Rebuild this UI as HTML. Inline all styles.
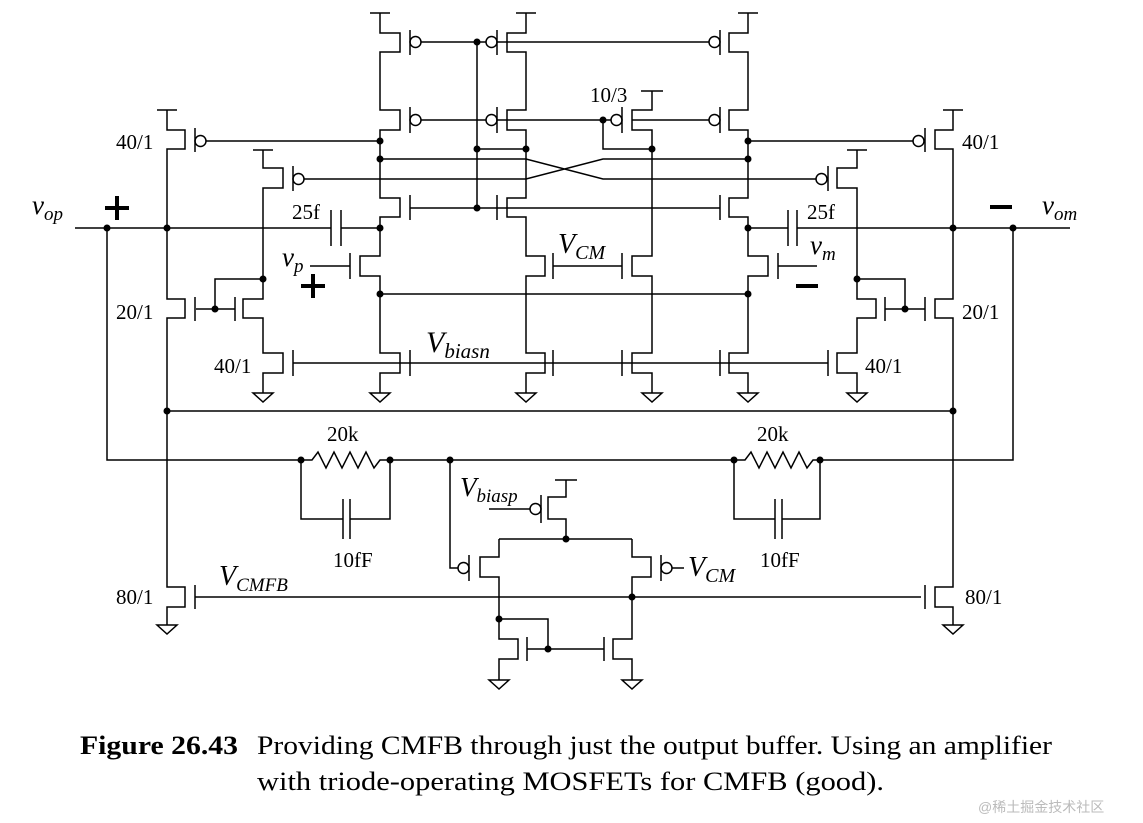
<!DOCTYPE html>
<html><head><meta charset="utf-8"><style>
html,body{margin:0;padding:0;background:#fff;width:1143px;height:823px;overflow:hidden}
svg{display:block}
text{font-family:"Liberation Serif",serif;fill:#000}
.l{font-size:21px}
.i{font-style:italic}
</style></head><body>
<svg width="1143" height="823" viewBox="0 0 1143 823" xmlns="http://www.w3.org/2000/svg">
<g fill="none" stroke="#000" stroke-width="1.5">
<path d="M370,13H390 M516,13H536 M738,13H758 M641,91H663 M157,110H177 M943,110H963 M253,150H273 M847,150H867 M555,480H577"/>
<path d="M380,13V33H400V52H380V110H400V130H380V198H400V217H380V256H360V276H380V353H400V373H380V393"/>
<path d="M526,13V33H507V52H526V110H507V130H526V198H507V217H526V256H545V276H526V353H545V373H526V393"/>
<path d="M652,91V110H632V130H652V256H632V276H652V353H632V373H652V393"/>
<path d="M748,13V33H729V52H748V110H729V130H748V198H729V217H748V256H768V276H748V353H729V373H748V393"/>
<path d="M410,30V55 M410,107V133 M410,195V220 M410,350V376 M350,253V279
M497,30V55 M497,107V133 M497,195V220 M553,253V279 M553,350V376
M622,107V133 M622,253V279 M622,350V376
M720,30V55 M720,107V133 M720,195V220 M720,350V376 M778,253V279"/>
<circle cx="415.5" cy="42" r="5.5"/><circle cx="491.5" cy="42" r="5.5"/>
<circle cx="415.5" cy="120" r="5.5"/><circle cx="491.5" cy="120" r="5.5"/>
<circle cx="616.5" cy="120" r="5.5"/><circle cx="714.5" cy="42" r="5.5"/><circle cx="714.5" cy="120" r="5.5"/>
<circle cx="200.5" cy="141" r="5.5"/><circle cx="298.5" cy="179" r="5.5"/>
<circle cx="918.5" cy="141" r="5.5"/><circle cx="821.5" cy="179" r="5.5"/>
<circle cx="463.5" cy="568" r="5.5"/><circle cx="666.5" cy="568" r="5.5"/><circle cx="535.5" cy="509" r="5.5"/>
<path d="M421,42H486 M497,42H709 M421,120H486 M497,120H611 M632,120H709 M410,208H720
M477,42V208 M477,149H526 M603,120V149H652
M380,159H526L603,179H816 M304,179H526L603,159H748
M206,141H380 M748,141H913 M553,266H622 M310,266H350 M778,266H817 M293,363H828 M380,294H748"/>
<path d="M75,228H331 M341,228H380 M748,228H788 M797,228H1070 M331,210V246 M341,210V246 M788,210V246 M797,210V246"/>
<path d="M167,110V130H185V149H167V299H185V318H167V587H185V607H167V625"/>
<path d="M263,150V168H283V188H263V299H243V318H263V353H283V373H263V393"/>
<path d="M195,128V152 M195,297V321 M195,585V609 M293,166V191 M235,297V321 M293,350V376 M263,279H215V309 M196,309H235"/>
<path d="M953,110V130H935V149H953V299H935V318H953V587H935V607H953V625"/>
<path d="M857,150V168H837V188H857V299H876V318H857V353H837V373H857V393"/>
<path d="M925,128V152 M925,297V321 M925,585V609 M828,166V191 M885,297V321 M828,350V376 M857,279H905V309 M885,309H925"/>
<path d="M167,411H953 M107,228V460H301 M390,460H734 M820,460H1013V228"/>
<path d="M301,460H312L318,452L326,468L334,452L342,468L350,452L358,468L366,452L374,468L380,460H390"/>
<path d="M734,460H745L751,452L759,468L767,452L775,468L783,452L791,468L799,452L807,468L813,460H820"/>
<path d="M301,460V519H343 M350,519H390V460 M343,499V539 M350,499V539"/>
<path d="M734,460V519H775 M782,519H820V460 M775,499V539 M782,499V539"/>
<path d="M450,460V568H458 M469,555V581 M672,568H684 M661,555V581"/>
<path d="M499,539V557H480V577H499V639H518V659H499V680 M499,539H632"/>
<path d="M632,539V557H651V577H632V639H613V659H632V680"/>
<path d="M527,637V661 M604,637V661 M527,649H604 M548,649V619H499"/>
<path d="M566,480V497H548V519H566V539 M541,495V523 M489,509H530"/>
<path d="M195,597H921"/>
<path d="M370,393H390L380,402Z M516,393H536L526,402Z M642,393H662L652,402Z M738,393H758L748,402Z M253,393H273L263,402Z M847,393H867L857,402Z M157,625H177L167,634Z M943,625H963L953,634Z M489,680H509L499,689Z M622,680H642L632,689Z"/>
</g>
<g fill="#000">
<circle cx="380" cy="141" r="3.5"/><circle cx="380" cy="159" r="3.5"/><circle cx="380" cy="228" r="3.5"/><circle cx="380" cy="294" r="3.5"/>
<circle cx="748" cy="141" r="3.5"/><circle cx="748" cy="159" r="3.5"/><circle cx="748" cy="228" r="3.5"/><circle cx="748" cy="294" r="3.5"/>
<circle cx="477" cy="42" r="3.5"/><circle cx="477" cy="149" r="3.5"/><circle cx="477" cy="208" r="3.5"/><circle cx="526" cy="149" r="3.5"/>
<circle cx="603" cy="120" r="3.5"/><circle cx="652" cy="149" r="3.5"/>
<circle cx="107" cy="228" r="3.5"/><circle cx="167" cy="228" r="3.5"/><circle cx="953" cy="228" r="3.5"/><circle cx="1013" cy="228" r="3.5"/>
<circle cx="263" cy="279" r="3.5"/><circle cx="215" cy="309" r="3.5"/><circle cx="857" cy="279" r="3.5"/><circle cx="905" cy="309" r="3.5"/>
<circle cx="167" cy="411" r="3.5"/><circle cx="953" cy="411" r="3.5"/>
<circle cx="301" cy="460" r="3.5"/><circle cx="390" cy="460" r="3.5"/><circle cx="450" cy="460" r="3.5"/><circle cx="734" cy="460" r="3.5"/><circle cx="820" cy="460" r="3.5"/>
<circle cx="566" cy="539" r="3.5"/><circle cx="499" cy="619" r="3.5"/><circle cx="548" cy="649" r="3.5"/><circle cx="632" cy="597" r="3.5"/>
</g>
<text class="l" x="116" y="149">40/1</text>
<text class="l" x="116" y="319">20/1</text>
<text class="l" x="214" y="373">40/1</text>
<text class="l" x="292" y="219">25f</text>
<text class="l" x="590" y="102">10/3</text>
<text class="l" x="807" y="219">25f</text>
<text class="l" x="962" y="149">40/1</text>
<text class="l" x="962" y="319">20/1</text>
<text class="l" x="865" y="373">40/1</text>
<text class="l" x="327" y="441">20k</text>
<text class="l" x="757" y="441">20k</text>
<text class="l" x="333" y="567">10fF</text>
<text class="l" x="760" y="567">10fF</text>
<text class="l" x="116" y="604">80/1</text>
<text class="l" x="965" y="604">80/1</text>
<text class="i" x="32" y="214" font-size="27">v<tspan font-size="19" dy="6">op</tspan></text>
<text class="i" x="1042" y="214" font-size="27">v<tspan font-size="19" dy="6">om</tspan></text>
<text class="i" x="282" y="266" font-size="27">v<tspan font-size="19" dy="6">p</tspan></text>
<text class="i" x="810" y="254" font-size="27">v<tspan font-size="19" dy="6">m</tspan></text>
<text class="i" x="558" y="253" font-size="28">V<tspan font-size="20" dy="6">CM</tspan></text>
<text class="i" x="426" y="352" font-size="30">V<tspan font-size="21" dy="6">biasn</tspan></text>
<text class="i" x="460" y="496" font-size="27">V<tspan font-size="19" dy="6">biasp</tspan></text>
<text class="i" x="688" y="576" font-size="28">V<tspan font-size="20" dy="6">CM</tspan></text>
<text class="i" x="219" y="585" font-size="28">V<tspan font-size="19" dy="6">CMFB</tspan></text>
<g fill="#000">
<rect x="105" y="206" width="24" height="4"/><rect x="115" y="196" width="4" height="24"/>
<rect x="301" y="284" width="24" height="4"/><rect x="311" y="274" width="4" height="24"/>
<rect x="990" y="205" width="22" height="4"/>
<rect x="796" y="284" width="22" height="4"/>
</g>
<text x="80" y="754" font-size="26" font-weight="bold" textLength="158" lengthAdjust="spacingAndGlyphs">Figure 26.43</text>
<text x="257" y="754" font-size="26" textLength="795" lengthAdjust="spacingAndGlyphs">Providing CMFB through just the output buffer. Using an amplifier</text>
<text x="257" y="790" font-size="26" textLength="627" lengthAdjust="spacingAndGlyphs">with triode-operating MOSFETs for CMFB (good).</text>
<text x="978" y="812" font-size="14" style="font-family:'Liberation Sans','Noto Sans CJK SC',sans-serif;fill:#bbb">@稀土掘金技术社区</text>
</svg>
</body></html>
